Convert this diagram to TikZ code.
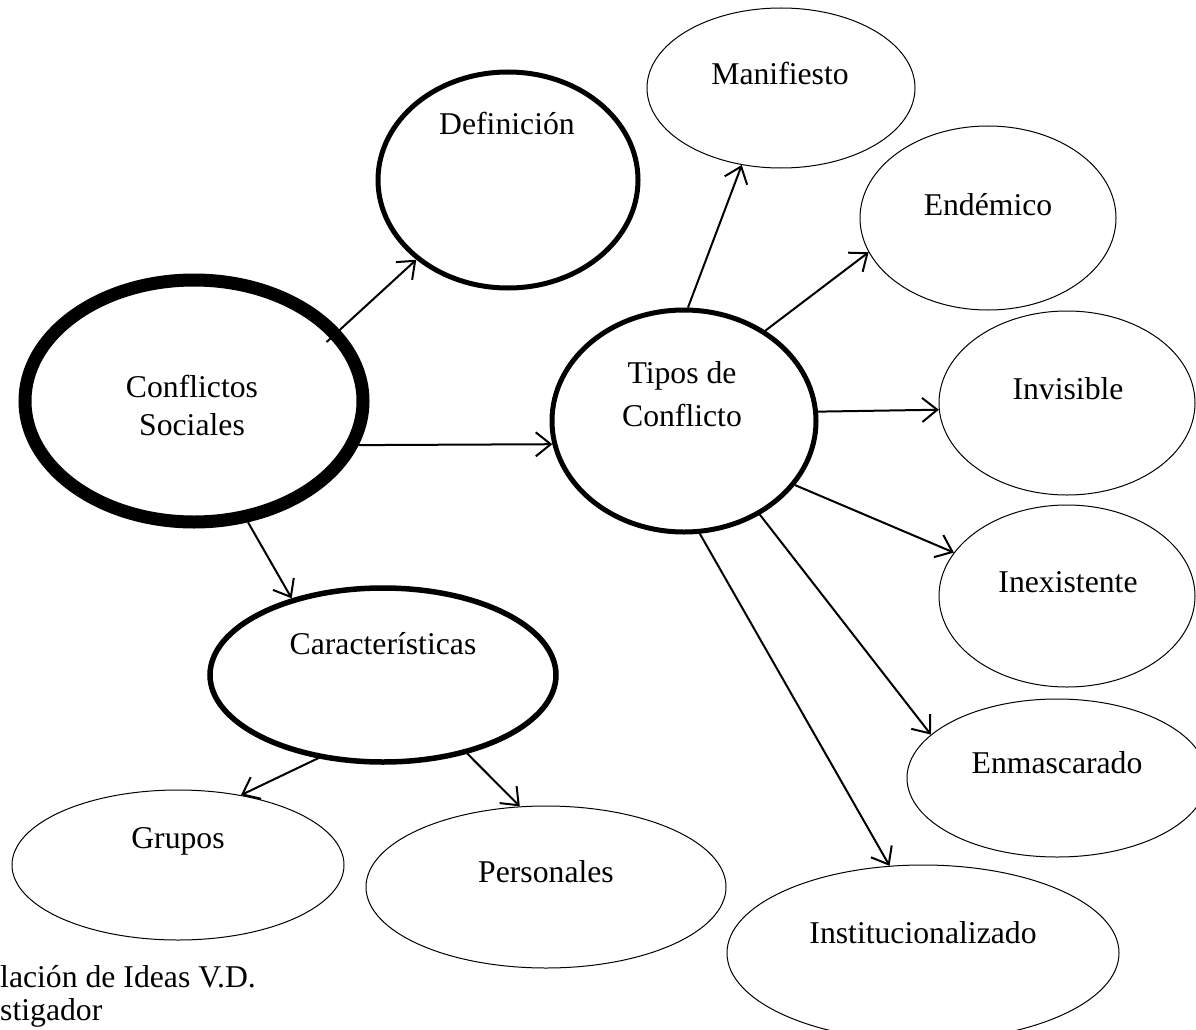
\documentclass[tikz,border=0pt]{standalone}
\usepackage{fontspec}
\setmainfont{Liberation Serif}
\usetikzlibrary{arrows.meta,shapes.geometric}
\begin{document}
\begin{tikzpicture}[x=1pt,y=-1pt,
  ell/.style={draw, ellipse, inner sep=0pt, line width=1pt},
  bold/.style={line width=5pt},
  heavy/.style={line width=13pt},
  lbl/.style={inner sep=0pt, font=\fontsize{31.7}{38}\selectfont, align=center},
  arr/.style={line width=2pt, -{Straight Barb[length=15pt,width=24pt,line width=2pt]}}]
\clip (0,0) rectangle (1196,1030);
% ellipses
\node[ell, heavy, minimum width=338pt, minimum height=242pt] (cs) at (194,401) {};
\node[ell, bold, minimum width=260pt, minimum height=216pt] (def) at (508,180) {};
\node[ell, bold, minimum width=264pt, minimum height=222pt] (tip) at (684,421) {};
\node[ell, bold, line width=5.5pt, minimum width=346pt, minimum height=174pt] (car) at (383,675) {};
\node[ell, minimum width=268pt, minimum height=160pt] (man) at (781,88) {};
\node[ell, minimum width=256pt, minimum height=184pt] (end) at (988,218) {};
\node[ell, minimum width=256pt, minimum height=184pt] (inv) at (1067,403) {};
\node[ell, minimum width=256pt, minimum height=182pt] (inx) at (1067,596) {};
\node[ell, minimum width=300pt, minimum height=158pt] (enm) at (1057,778) {};
\node[ell, minimum width=392pt, minimum height=176pt] (ins) at (923,953) {};
\node[ell, minimum width=332pt, minimum height=150pt] (gru) at (178,865) {};
\node[ell, minimum width=360pt, minimum height=162pt] (per) at (546,887) {};
% texts
\node[lbl, anchor=north] (tcs) at (192,375) {Conflictos\\Sociales};
\node[lbl, anchor=base] (tdef) at (507,135) {Definición};
\node[lbl, anchor=north, font=\fontsize{31.7}{43}\selectfont] (ttip) at (682,361) {Tipos de\\Conflicto};
\node[lbl, anchor=base] (tcar) at (383,654) {Características};
\node[lbl, anchor=base] (tman) at (780,85) {Manifiesto};
\node[lbl, anchor=base] (tend) at (988,215) {Endémico};
\node[lbl, anchor=base] (tinv) at (1068,399) {Invisible};
\node[lbl, anchor=base] (tinx) at (1068,592) {Inexistente};
\node[lbl, anchor=base] (tenm) at (1057,773) {Enmascarado};
\node[lbl, anchor=base] (tins) at (923,943) {Institucionalizado};
\node[lbl, anchor=base] (tgru) at (178,848) {Grupos};
\node[lbl, anchor=base] (tper) at (546,882) {Personales};
\node[lbl, anchor=base west, align=left] (f1) at (0,987) {lación de Ideas V.D.};
\node[lbl, anchor=base west, align=left] (f2) at (0,1020) {stigador};
% connectors
\draw[arr, shorten <=-18pt] (cs.26) -- (def.221);
\draw[arr] (cs.-15.6) -- (tip.190.5);
\draw[arr] (cs.-66.1) -- (car.140.4);
\draw[arr, shorten <=-6pt] (car.232.5) -- (gru.48.3);
\draw[arr, shorten <=-6pt] (car.-43.2) -- (per.108);
\draw[arr] (tip.88.5) -- (man.243.4);
\draw[arr] (tip.48.4) -- (end.196);
\draw[arr] (tip.4.5) -- (inv.183.6);
\draw[arr] (tip.-30.7) -- (inx.159.4);
\draw[arr] (tip.-51.3) -- (enm.161.4);
\draw[arr] (tip.-82.8) -- (ins.111.7);
\end{tikzpicture}
\end{document}
